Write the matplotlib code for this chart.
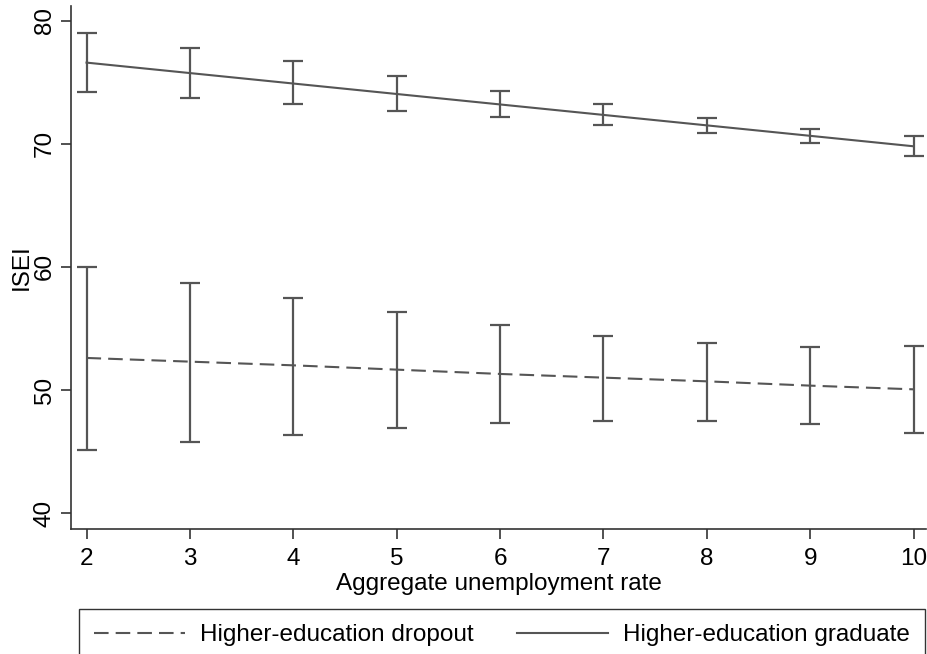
import matplotlib.pyplot as plt
import numpy as np

plt.rcParams['font.family'] = ['Liberation Sans', 'DejaVu Sans']

# Aggregate unemployment rate
rate = [2, 3, 4, 5, 6, 7, 8, 9, 10]

# Higher-education graduate: estimate and CI
grad = [76.6, 75.75, 74.9, 74.05, 73.2, 72.35, 71.5, 70.65, 69.8]
grad_hi = [79.0, 77.8, 76.7, 75.5, 74.3, 73.2, 72.1, 71.2, 70.6]
grad_lo = [74.2, 73.7, 73.2, 72.7, 72.2, 71.5, 70.9, 70.1, 69.0]

# Higher-education dropout: estimate and CI
drop = [52.6, 52.3, 52.0, 51.65, 51.3, 51.0, 50.7, 50.35, 50.05]
drop_hi = [60.0, 58.7, 57.5, 56.3, 55.3, 54.4, 53.8, 53.5, 53.6]
drop_lo = [45.1, 45.8, 46.3, 46.9, 47.3, 47.5, 47.5, 47.2, 46.5]

col = '#555555'
fs = 17.5

fig = plt.figure(figsize=(9.28, 6.54), dpi=100)
ax = fig.add_axes([71 / 928, 1 - 529 / 654, (926 - 71) / 928, (529 - 6) / 654])

for est, lo, hi, ls, lab in [(drop, drop_lo, drop_hi, (0, (7, 3.4)), 'Higher-education dropout'),
                             (grad, grad_lo, grad_hi, '-', 'Higher-education graduate')]:
    est = np.array(est)
    ax.errorbar(rate, est, yerr=[est - np.array(lo), np.array(hi) - est],
                fmt='none', ecolor=col, elinewidth=1.6, capsize=7, capthick=1.6)
    ax.plot(rate, est, color=col, lw=1.5, ls=ls, label=lab)

ax.set_xlim(1.85, 10.12)
ax.set_ylim(38.7, 81.2)
ax.set_xticks(rate)
ax.set_yticks([40, 50, 60, 70, 80])
ax.spines['top'].set_visible(False)
ax.spines['right'].set_visible(False)
for s in ['left', 'bottom']:
    ax.spines[s].set_color('#333333')
    ax.spines[s].set_linewidth(1.2)
ax.tick_params(colors='#333333', labelcolor='black', length=7, width=1.2, labelsize=fs)
ax.tick_params(axis='x', pad=7)
ax.tick_params(axis='y', pad=4)
for t in ax.get_yticklabels():
    t.set_rotation(90)
    t.set_va('center')
ax.set_xlabel('Aggregate unemployment rate', fontsize=fs, labelpad=1.5)
ax.set_ylabel('ISEI', fontsize=fs, labelpad=1)

leg = fig.legend(loc='upper left', bbox_to_anchor=(79 / 928, 1 - 609 / 654),
                 ncol=2, frameon=True, fancybox=False, fontsize=fs,
                 handlelength=3.75, handletextpad=0.6, borderpad=0.62, borderaxespad=0,
                 columnspacing=1.8)
leg.get_frame().set_edgecolor('black')
leg.get_frame().set_linewidth(1.0)

fig.savefig('out.png', dpi=100)
